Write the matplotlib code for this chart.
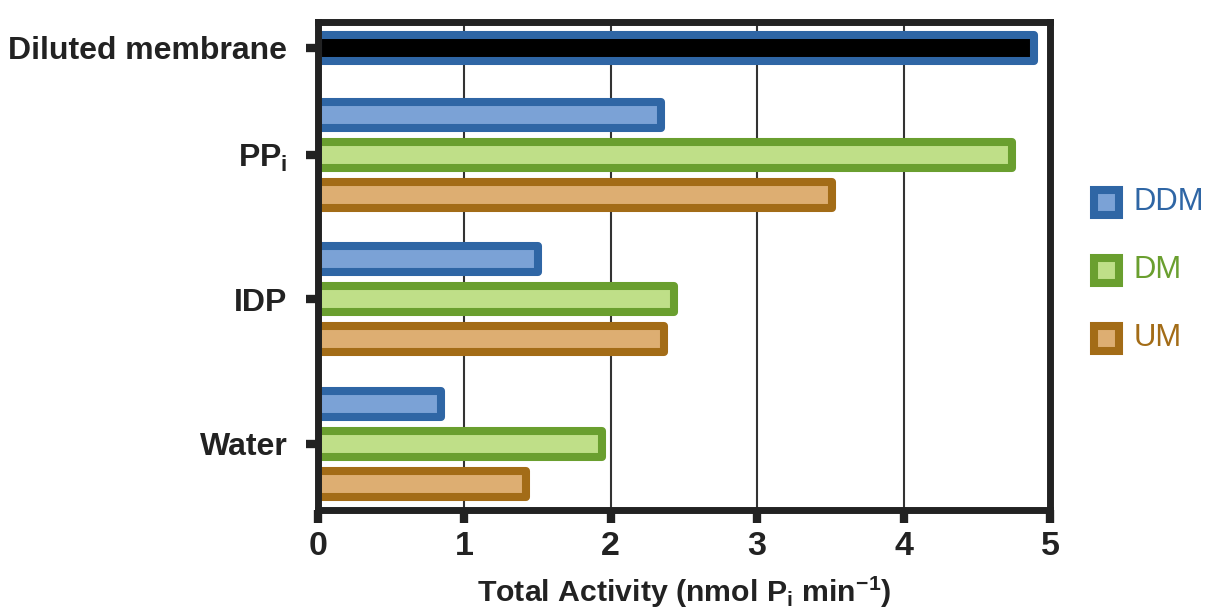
import matplotlib
matplotlib.use("Agg")
import matplotlib.pyplot as plt
from matplotlib.lines import Line2D

plt.rcParams['font.family'] = ['Liberation Sans', 'DejaVu Sans']
plt.rcParams['mathtext.fontset'] = 'custom'
plt.rcParams['mathtext.rm'] = 'Liberation Sans:bold'
plt.rcParams['mathtext.it'] = 'Liberation Sans:bold'
plt.rcParams['mathtext.bf'] = 'Liberation Sans:bold'
plt.rcParams['mathtext.default'] = 'rm'

# ---- data ----
categories = ["Diluted membrane", r"PP$_\mathregular{i}$", "IDP", "Water"]
series = ["DDM", "DM", "UM"]
diluted_membrane = [4.89]
ddm = [2.34, 1.50, 0.84]   # PPi, IDP, Water
dm = [4.74, 2.43, 1.94]
um = [3.51, 2.36, 1.42]
x_ticks = [0, 1, 2, 3, 4, 5]
x_label = r"Total Activity (nmol P$_\mathregular{i}$ min$^\mathregular{-1}$)"

edge_colors = {"DDM": "#2f66a5", "DM": "#6a9f2f", "UM": "#a36c17"}
fill_colors = {"DDM": "#7ba2d6", "DM": "#bfdf88", "UM": "#ddae72"}

fig = plt.figure(figsize=(12.05, 6.10), dpi=100)
ax = fig.add_axes([318/1205, 1-510/610, (1050-318)/1205, (510-21.5)/610])

# layout (in bar-pitch units, top = 0)
cat_pos = [0.66, 3.34, 6.94, 10.56]
offsets = [-1.0, 0.0, 1.0]
bar_h = 0.65
lw = 5.8

ax.barh([cat_pos[0]], diluted_membrane, height=bar_h, color="black",
        edgecolor=edge_colors["DDM"], linewidth=lw, joinstyle='round', zorder=3)
for s, vals, off in zip(series, [ddm, dm, um], offsets):
    ys = [p + off for p in cat_pos[1:]]
    ax.barh(ys, vals, height=bar_h, color=fill_colors[s], edgecolor=edge_colors[s],
            linewidth=lw, joinstyle='round', zorder=3)

ax.set_xlim(0, 5)
ax.set_ylim(12.21, 0)
ax.set_xticks(x_ticks)
ax.set_xticklabels([str(t) for t in x_ticks], fontsize=24.5, fontweight='bold', color='#222222')
ax.set_yticks(cat_pos)
ax.set_yticklabels(categories, fontsize=23, fontweight='bold', color='#222222')
ax.tick_params(axis='y', length=9, width=6, color='#222222', pad=13)
ax.tick_params(axis='x', length=9, width=6, color='#222222', pad=6)
ax.set_xlabel(x_label, fontsize=21.8, fontweight='bold', color='#222222', labelpad=9)

ax.grid(axis='x', color='#333333', linewidth=1.5, zorder=1)
ax.set_axisbelow(True)
for sp in ax.spines.values():
    sp.set_linewidth(5)
    sp.set_color('#222222')
    sp.set_zorder(5)

# legend (manual)
leg_y = [201.7, 270, 338]
for s, yy in zip(series, leg_y):
    yf = 1 - yy/610
    fig.add_artist(Line2D([1106/1205], [yf], marker='s', markersize=18,
                          markerfacecolor=fill_colors[s], markeredgecolor=edge_colors[s],
                          markeredgewidth=5.8, linestyle='none', transform=fig.transFigure))
    fig.text(1134/1205, yf, s, fontsize=22.3, color=edge_colors[s], va='center', ha='left')

fig.savefig("out.png", dpi=100)
